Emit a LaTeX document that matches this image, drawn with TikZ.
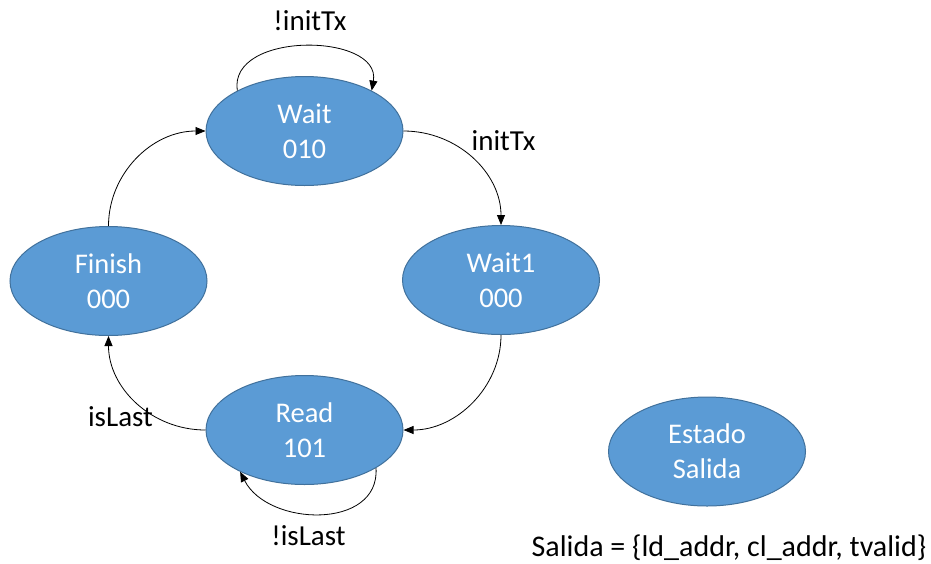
\documentclass[tikz,border=0pt]{standalone}
\usepackage{fontspec}
\setmainfont{Carlito}
\usetikzlibrary{arrows.meta,shapes.geometric}
\definecolor{statefill}{HTML}{5B9BD5}
\definecolor{stateline}{HTML}{41719C}
\begin{document}
\begin{tikzpicture}[x=1pt,y=-1pt,
  state/.style={ellipse, draw=stateline, line width=1pt, fill=statefill,
    text=white, minimum width=197pt, minimum height=109pt, inner sep=0pt,
    align=center, font=\fontsize{28.5}{35}\selectfont},
  trans/.style={draw=black, line width=0.8pt, -{Triangle[length=10pt,width=8pt]}},
  lbl/.style={font=\fontsize{29}{34}\selectfont, text=black, anchor=base, inner sep=0pt}]
  \useasboundingbox[fill=white] (0,0) rectangle (931,563);

  % states
  \node[state] (wait)  at (304.5,131) {Wait\\010};
  \node[state] (fin)   at (108.5,281) {Finish\\000};
  \node[state] (wait1) at (501,280)   {Wait1\\000};
  \node[state] (read)  at (304.5,430) {Read\\101};
  \node[state] (est)   at (707,451.5) {Estado\\Salida};

  % transitions around the cycle
  \draw[trans] (wait.east)  .. controls +(54,0)  and +(0,-52) .. (wait1.north);
  \draw[trans] (wait1.south) .. controls +(0,52) and +(53,0)  .. (read.east);
  \draw[trans] (read.west)  .. controls +(-54,0) and +(0,52)  .. (fin.south);
  \draw[trans] (fin.north)  .. controls +(0,-52) and +(-54,0) .. (wait.west);

  % self loops
  \draw[trans] (wait.149) .. controls +(-9,-60) and +(10,-58) .. (wait.31);
  \draw[trans] (read.-28) .. controls +(4,62) and +(28,55) .. (read.-147);

  % transition labels
  \node[lbl] (lwait)  at (310,30)    {!initTx};
  \node[lbl] (linit)  at (503.5,150.5) {initTx};
  \node[lbl] (llast)  at (120.5,426.5) {isLast};
  \node[lbl] (lread)  at (308.5,545) {!isLast};

  % output legend
  \node[lbl, font=\fontsize{30}{34}\selectfont] (legend) at (729,556)
    {Salida = \{ld\_addr, cl\_addr, tvalid\}};
\end{tikzpicture}
\end{document}
